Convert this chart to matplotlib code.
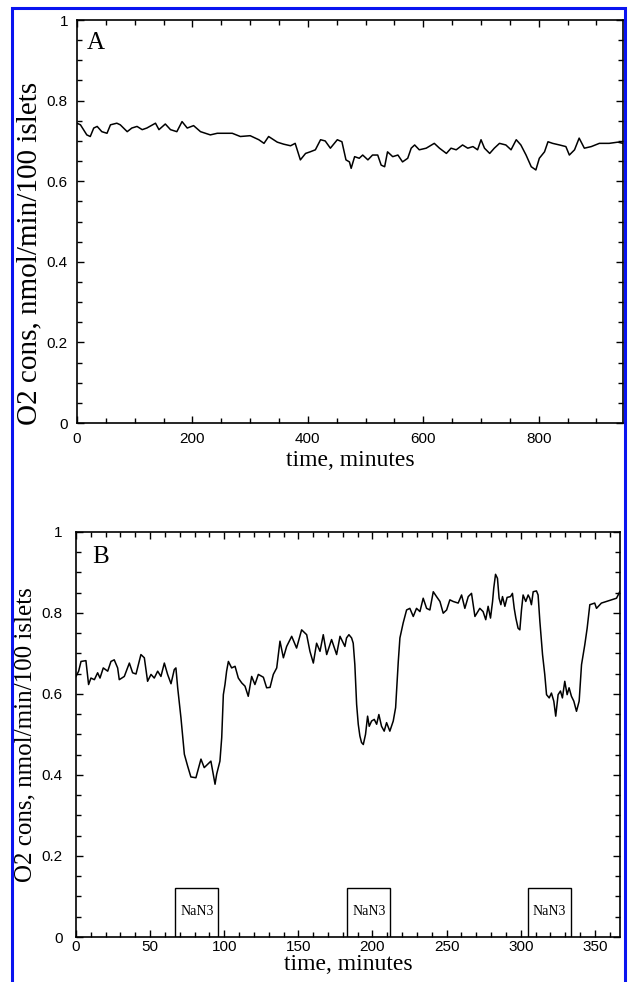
import numpy as np
import matplotlib
matplotlib.use('Agg')
import matplotlib.pyplot as plt
from matplotlib.patches import Rectangle
from matplotlib.ticker import MultipleLocator

# ---- Dados painel A (experimento longo) ----
tempo_a = [0, 6, 17, 23, 29, 35, 43, 52, 58, 69, 75, 87, 95, 104, 113, 121, 136, 142, 153, 162,
           173, 182, 191, 202, 214, 231, 243, 254, 269, 283, 300, 315, 324, 332, 347, 358, 370, 378,
           387, 396, 404, 413, 422, 430, 439, 451, 459,
           466, 472, 475, 481, 489, 495, 504, 512, 521, 527, 533, 538, 547, 556, 564, 573, 579, 585,
           593, 605, 619, 628, 640, 648, 657, 668, 677, 686, 694, 700, 706, 715, 723, 732, 743, 752,
           761, 769, 778, 787, 795, 801, 810, 816, 824, 836, 847, 853, 862, 870, 879, 891, 905, 922,
           937, 946]
o2_a = [0.744, 0.740, 0.715, 0.711, 0.732, 0.736, 0.723, 0.719, 0.740, 0.744, 0.740, 0.723, 0.732,
        0.736, 0.728, 0.732, 0.744, 0.728, 0.742, 0.728, 0.723, 0.748, 0.732, 0.738, 0.723, 0.715,
        0.719, 0.719, 0.719, 0.711, 0.713, 0.703, 0.694, 0.711, 0.697, 0.692, 0.688, 0.694, 0.653,
        0.669, 0.673, 0.678, 0.703, 0.700, 0.682, 0.703, 0.698,
        0.653, 0.648, 0.632, 0.661, 0.657, 0.665, 0.653, 0.665, 0.665, 0.640, 0.636, 0.673, 0.661,
        0.665, 0.648, 0.657, 0.682, 0.690, 0.678, 0.682, 0.694, 0.682, 0.669, 0.682, 0.678, 0.690,
        0.682, 0.686, 0.678, 0.703, 0.682, 0.669, 0.682, 0.694, 0.690, 0.678, 0.703, 0.690, 0.665,
        0.636, 0.628, 0.657, 0.673, 0.698, 0.694, 0.690, 0.686, 0.665, 0.678, 0.707, 0.682, 0.686,
        0.694, 0.694, 0.697, 0.694]

# ---- Dados painel B (pulsos de NaN3) ----
tempo_b = [0, 1.8, 3.4, 6.7, 8.5, 10.1, 12.4, 14.6, 16.2, 18.4, 21.4, 23.6, 25.8, 28.1, 29.2, 32.6,
           36.0, 38.2, 40.5, 43.8, 46.1, 48.3, 50.6, 52.8, 55.1, 57.3, 59.6, 61.8, 64.1, 66.3, 67.4,
           68.6, 70.8, 73.1, 75.3, 77.5, 80.9, 84.3, 86.5, 88.8, 91.0,
           93.8, 94.9, 97.1, 98.3, 99.4, 100.5, 101.6, 102.8, 105.0, 107.3, 109.5, 111.8, 114.0,
           116.2, 118.5, 120.7, 123.0, 126.4, 128.6, 130.9, 133.1, 135.4, 137.6, 139.9, 142.1, 145.5,
           148.8, 152.2, 155.6, 157.8, 160.1, 162.3, 164.6, 166.8, 169.1, 172.4, 175.8, 178.1,
           181.4, 182.5, 184.1, 185.9, 187.0, 188.1, 189.3, 190.4, 191.5, 192.6, 193.8, 195.3, 196.7,
           197.8, 199.4, 201.2, 202.8, 204.3, 206.1, 207.9, 209.5, 211.7, 214.0, 215.6, 217.4, 218.5,
           220.7, 223.0, 225.2, 227.5, 229.7, 232.0, 234.2, 236.5, 238.7, 241.0, 243.2, 245.5, 247.7,
           250.0, 252.2, 254.4, 257.8, 260.1, 262.3, 264.6, 266.8, 269.1,
           272.4, 274.6, 276.4, 278.0, 279.6, 281.0, 281.8, 283.0, 284.3, 285.4, 286.6, 287.7, 289.3,
           290.8, 293.1, 294.4, 295.6, 296.7, 298.2, 299.4, 300.5, 301.6, 303.4, 305.0, 306.1, 307.2,
           308.4, 310.6, 311.7, 312.9, 314.7, 316.2, 317.4, 319.2, 320.7, 322.3, 323.6, 325.2, 326.8,
           328.1, 329.7, 331.3, 332.6, 334.2, 335.8, 337.6, 339.4, 341.0, 343.2, 344.8, 346.6, 349.9,
           351.1, 354.4, 357.8, 361.2, 364.6, 366.8]
o2_b = [0.643, 0.656, 0.680, 0.682, 0.623, 0.639, 0.635, 0.652, 0.639, 0.664, 0.656, 0.680, 0.684,
        0.664, 0.635, 0.643, 0.676, 0.652, 0.649, 0.697, 0.689, 0.631, 0.648, 0.639, 0.656, 0.643,
        0.676, 0.648, 0.625, 0.660, 0.664, 0.615, 0.541, 0.451, 0.422, 0.395, 0.393, 0.439, 0.418,
        0.426, 0.434,
        0.377, 0.402, 0.434, 0.492, 0.598, 0.623, 0.656, 0.680, 0.664, 0.668, 0.639, 0.627, 0.619,
        0.594, 0.643, 0.623, 0.648, 0.641, 0.615, 0.616, 0.648, 0.664, 0.730, 0.689, 0.717, 0.742,
        0.713, 0.758, 0.746, 0.705, 0.676, 0.725, 0.705, 0.746, 0.697, 0.734, 0.697, 0.742,
        0.717, 0.738, 0.746, 0.738, 0.725, 0.672, 0.574, 0.525, 0.496, 0.480, 0.475, 0.500, 0.545,
        0.520, 0.533, 0.537, 0.525, 0.549, 0.520, 0.508, 0.529, 0.508, 0.533, 0.566, 0.680, 0.738,
        0.775, 0.807, 0.811, 0.791, 0.811, 0.803, 0.836, 0.811, 0.807, 0.852, 0.840, 0.828, 0.799,
        0.807, 0.832, 0.828, 0.824, 0.844, 0.811, 0.840, 0.848, 0.791,
        0.811, 0.803, 0.783, 0.816, 0.787, 0.828, 0.861, 0.895, 0.885, 0.836, 0.820, 0.840, 0.816,
        0.838, 0.840, 0.848, 0.811, 0.787, 0.762, 0.758, 0.807, 0.844, 0.828, 0.844, 0.836, 0.820,
        0.852, 0.854, 0.844, 0.779, 0.697, 0.648, 0.598, 0.590, 0.602, 0.582, 0.545, 0.598, 0.607,
        0.590, 0.631, 0.598, 0.615, 0.594, 0.582, 0.557, 0.582, 0.672, 0.721, 0.762, 0.820, 0.824,
        0.811, 0.824, 0.828, 0.832, 0.836, 0.852]

# Periodos de NaN3 (inicio, duracao em minutos)
nan3_inicio = [67, 183, 305]
nan3_duracao = 29
nan3_altura = 0.12

fonte_serif = 'Liberation Serif'
fonte_sans = 'Liberation Sans'

fig = plt.figure(figsize=(6.29, 9.82), dpi=100)

# moldura azul em volta da figura
fig.patches.append(Rectangle((0.019, -0.05), 0.9746, 1.0419, transform=fig.transFigure,
                             fill=False, edgecolor='#0a14f0', linewidth=2.2))

ax_a = fig.add_axes([0.1224, 0.5692, 0.8681, 0.4104])
ax_b = fig.add_axes([0.1208, 0.0458, 0.8650, 0.4127])


def estilo_eixo(ax, xmax, x_maior, x_menor, pad_x, pad_y):
    ax.set_ylim(0, 1)
    ax.set_xlim(0, xmax)
    ax.xaxis.set_major_locator(MultipleLocator(x_maior))
    ax.xaxis.set_minor_locator(MultipleLocator(x_menor))
    ax.yaxis.set_minor_locator(MultipleLocator(0.05))
    ax.set_yticks([0, 0.2, 0.4, 0.6, 0.8, 1.0])
    ax.set_yticklabels(['0', '0.2', '0.4', '0.6', '0.8', '1'])
    ax.tick_params(which='both', direction='in', top=True, right=True, width=1.0)
    ax.tick_params(which='major', length=5, labelsize=11)
    ax.tick_params(which='minor', length=3.5)
    ax.tick_params(axis='x', which='major', pad=pad_x)
    ax.tick_params(axis='y', which='major', pad=pad_y)
    for lab in ax.get_xticklabels() + ax.get_yticklabels():
        lab.set_fontfamily(fonte_sans)
    for sp in ax.spines.values():
        sp.set_linewidth(1.2)


# ---- Painel A ----
ax_a.plot(tempo_a, o2_a, color='black', linewidth=1.1)
estilo_eixo(ax_a, 946, 200, 50, 6.5, 6.5)
ax_a.set_xlabel('time, minutes', fontfamily=fonte_serif, fontsize=17, labelpad=3)
ax_a.set_ylabel('O2 cons, nmol/min/100 islets', fontfamily=fonte_serif, fontsize=21)
ax_a.yaxis.set_label_coords(-0.064, 0.42)
ax_a.text(0.018, 0.97, 'A', transform=ax_a.transAxes, ha='left', va='top',
          fontfamily=fonte_serif, fontsize=18)

# ---- Painel B ----
ax_b.plot(tempo_b, o2_b, color='black', linewidth=1.1)
ax_b.bar(nan3_inicio, nan3_altura, width=nan3_duracao, align='edge', fill=False,
         edgecolor='black', linewidth=1.0)
for ini in nan3_inicio:
    ax_b.text(ini + nan3_duracao / 2, 0.064, 'NaN3', ha='center', va='center',
              fontfamily=fonte_serif, fontsize=10)
estilo_eixo(ax_b, 367, 50, 10, 2.5, 9.5)
ax_b.set_xlabel('time, minutes', fontfamily=fonte_serif, fontsize=17, labelpad=0)
ax_b.set_ylabel('O2 cons, nmol/min/100 islets', fontfamily=fonte_serif, fontsize=18)
ax_b.yaxis.set_label_coords(-0.072, 0.5)
ax_b.text(0.03, 0.965, 'B', transform=ax_b.transAxes, ha='left', va='top',
          fontfamily=fonte_serif, fontsize=18)

plt.savefig('out.png', dpi=100)
